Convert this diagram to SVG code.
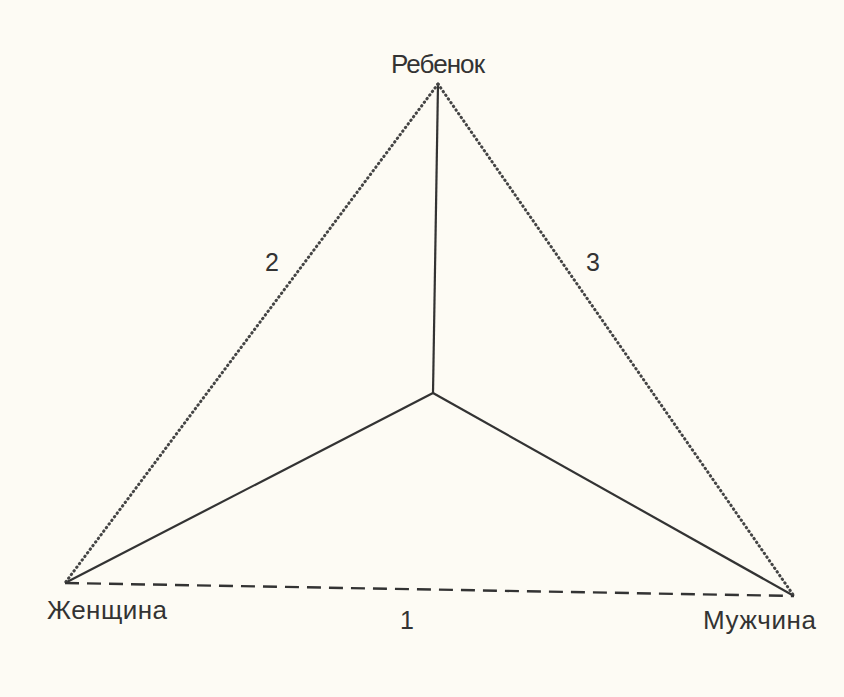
<svg xmlns="http://www.w3.org/2000/svg" width="844" height="697" viewBox="0 0 844 697">
<style>
.lbl{font-family:"Liberation Sans",Arial,sans-serif;font-size:26px;fill:#333}
.num{font-family:"Liberation Sans",Arial,sans-serif;font-size:25px;fill:#333;text-anchor:middle}
.solid{stroke:#333;stroke-width:2.2;fill:none}
.dot{stroke:#444;stroke-width:3;fill:none;stroke-dasharray:0.5 4;stroke-linecap:round}
.dash{stroke:#333;stroke-width:2.4;fill:none;stroke-dasharray:14 8}
</style>
<rect width="844" height="697" fill="#fdfbf4"/>
<g id="connectors">
<line class="solid" x1="438" y1="84" x2="433" y2="393"/>
<line class="solid" x1="433" y1="393" x2="65" y2="583"/>
<line class="solid" x1="433" y1="393" x2="794" y2="596"/>
<line class="dot" x1="438" y1="84" x2="65" y2="583"/>
<line class="dot" x1="438" y1="84" x2="794" y2="596"/>
<line class="dash" x1="65" y1="583" x2="794" y2="596"/>
<text class="num" x="272" y="271">2</text>
<text class="num" x="593" y="271">3</text>
<text class="num" x="407" y="629">1</text>
</g>
<g id="child"><text class="lbl" x="438" y="73" text-anchor="middle" textLength="94">Ребенок</text></g>
<g id="woman"><text class="lbl" x="47" y="619" textLength="120">Женщина</text></g>
<g id="man"><text class="lbl" x="703" y="629" textLength="113">Мужчина</text></g>
</svg>
